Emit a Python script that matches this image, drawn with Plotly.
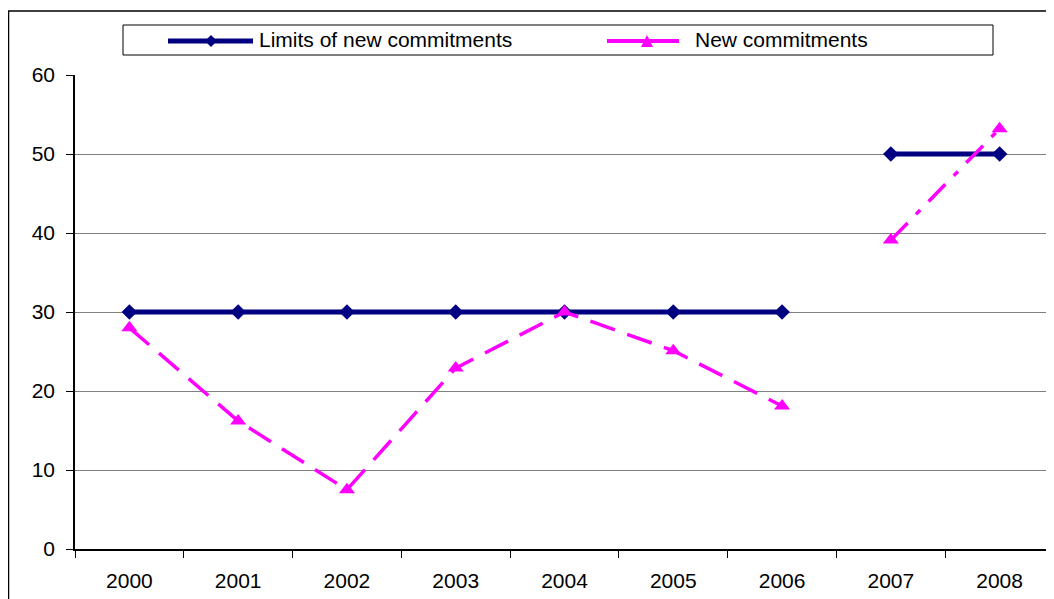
import plotly.graph_objects as go

years = ["2000", "2001", "2002", "2003", "2004", "2005", "2006", "2007", "2008"]
limits_a_x = years[:7]
limits_a = [30, 30, 30, 30, 30, 30, 30]
limits_b_x = years[7:]
limits_b = [50, 50]
new_a_x = years[:7]
new_a = [28, 16.2, 7.5, 22.9, 30, 25.1, 18.1]
new_b_x = years[7:]
new_b = [39.1, 53.2]
y_ticks = [0, 10, 20, 30, 40, 50, 60]

OFF = 8  # page body margin
W, H = 1054 - OFF, 599 - OFF
L, R, T, B = 75 - OFF, 0, 75 - OFF, 50
PW, PH = W - L - R, H - T - B

def px(x):  # screen x -> paper
    return (x - OFF - L) / PW

def py(y):  # screen y -> paper
    return (H - B - (y - OFF)) / PH

NAVY = "#000080"
MAG = "#FF00FF"
FONT = "Liberation Sans, Arial, sans-serif"

fig = go.Figure()
fig.add_trace(go.Scatter(x=limits_a_x, y=limits_a, mode="lines+markers",
                         line=dict(color=NAVY, width=5),
                         marker=dict(symbol="diamond", size=12, color=NAVY),
                         name="Limits of new commitments", showlegend=False))
fig.add_trace(go.Scatter(x=limits_b_x, y=limits_b, mode="lines+markers",
                         line=dict(color=NAVY, width=5),
                         marker=dict(symbol="diamond", size=12, color=NAVY),
                         showlegend=False))
fig.add_trace(go.Scatter(x=new_a_x, y=new_a, mode="lines+markers",
                         line=dict(color=MAG, width=3.5, dash="26px,13px"),
                         marker=dict(symbol="triangle-up", size=14, color=MAG),
                         name="New commitments", showlegend=False))
fig.add_trace(go.Scatter(x=new_b_x, y=new_b, mode="lines+markers",
                         line=dict(color=MAG, width=3.5, dash="24px,12px,6px,12px"),
                         marker=dict(symbol="triangle-up", size=14, color=MAG),
                         showlegend=False))

shapes = []
# outer chart border
shapes.append(dict(type="rect", xref="paper", yref="paper",
                   x0=px(8.5), x1=px(1080), y0=py(640), y1=py(11),
                   line=dict(color="black", width=1.5), layer="below"))
# legend box
shapes.append(dict(type="rect", xref="paper", yref="paper",
                   x0=px(123), x1=px(993), y0=py(55), y1=py(25),
                   line=dict(color="black", width=1), fillcolor="white"))
# legend glyphs
shapes.append(dict(type="line", xref="paper", yref="paper",
                   x0=px(168), x1=px(253), y0=py(41), y1=py(41),
                   line=dict(color=NAVY, width=5)))
dx, dy = 6, 6
shapes.append(dict(type="path", xref="paper", yref="paper",
                   path=f"M {px(211-dx)} {py(41)} L {px(211)} {py(41-dy)} L {px(211+dx)} {py(41)} L {px(211)} {py(41+dy)} Z",
                   fillcolor=NAVY, line=dict(color=NAVY, width=0)))
shapes.append(dict(type="line", xref="paper", yref="paper",
                   x0=px(607), x1=px(679), y0=py(41), y1=py(41),
                   line=dict(color=MAG, width=4)))
shapes.append(dict(type="path", xref="paper", yref="paper",
                   path=f"M {px(641)} {py(47)} L {px(647)} {py(35)} L {px(653)} {py(47)} Z",
                   fillcolor=MAG, line=dict(color=MAG, width=0)))

annotations = [
    dict(xref="paper", yref="paper", x=px(257), y=py(40), text="Limits of new commitments",
         showarrow=False, xanchor="left", yanchor="middle",
         font=dict(family=FONT, size=21, color="black")),
    dict(xref="paper", yref="paper", x=px(693), y=py(40), text="New commitments",
         showarrow=False, xanchor="left", yanchor="middle",
         font=dict(family=FONT, size=21, color="black")),
]

fig.update_layout(
    width=W, height=H,
    margin=dict(l=L, r=R, t=T, b=B),
    paper_bgcolor="white", plot_bgcolor="white",
    showlegend=False,
    shapes=shapes, annotations=annotations,
    font=dict(family=FONT, size=21, color="black"),
    xaxis=dict(type="category", categoryorder="array", categoryarray=years,
               range=[-0.5, 8.5], tickson="boundaries", ticks="outside",
               ticklen=7, tickcolor="black", showgrid=False,
               showline=True, linecolor="black", linewidth=1.5,
               ticklabelstandoff=12,
               tickfont=dict(family=FONT, size=21, color="black")),
    yaxis=dict(range=[0, 60], tickvals=y_ticks, ticks="outside", ticklen=7,
               tickcolor="black", showgrid=True, gridcolor="#808080", gridwidth=1,
               showline=True, linecolor="black", linewidth=1.5, zeroline=False,
               ticklabelstandoff=7,
               tickfont=dict(family=FONT, size=21, color="black")),
)

fig.write_html("out.html")
